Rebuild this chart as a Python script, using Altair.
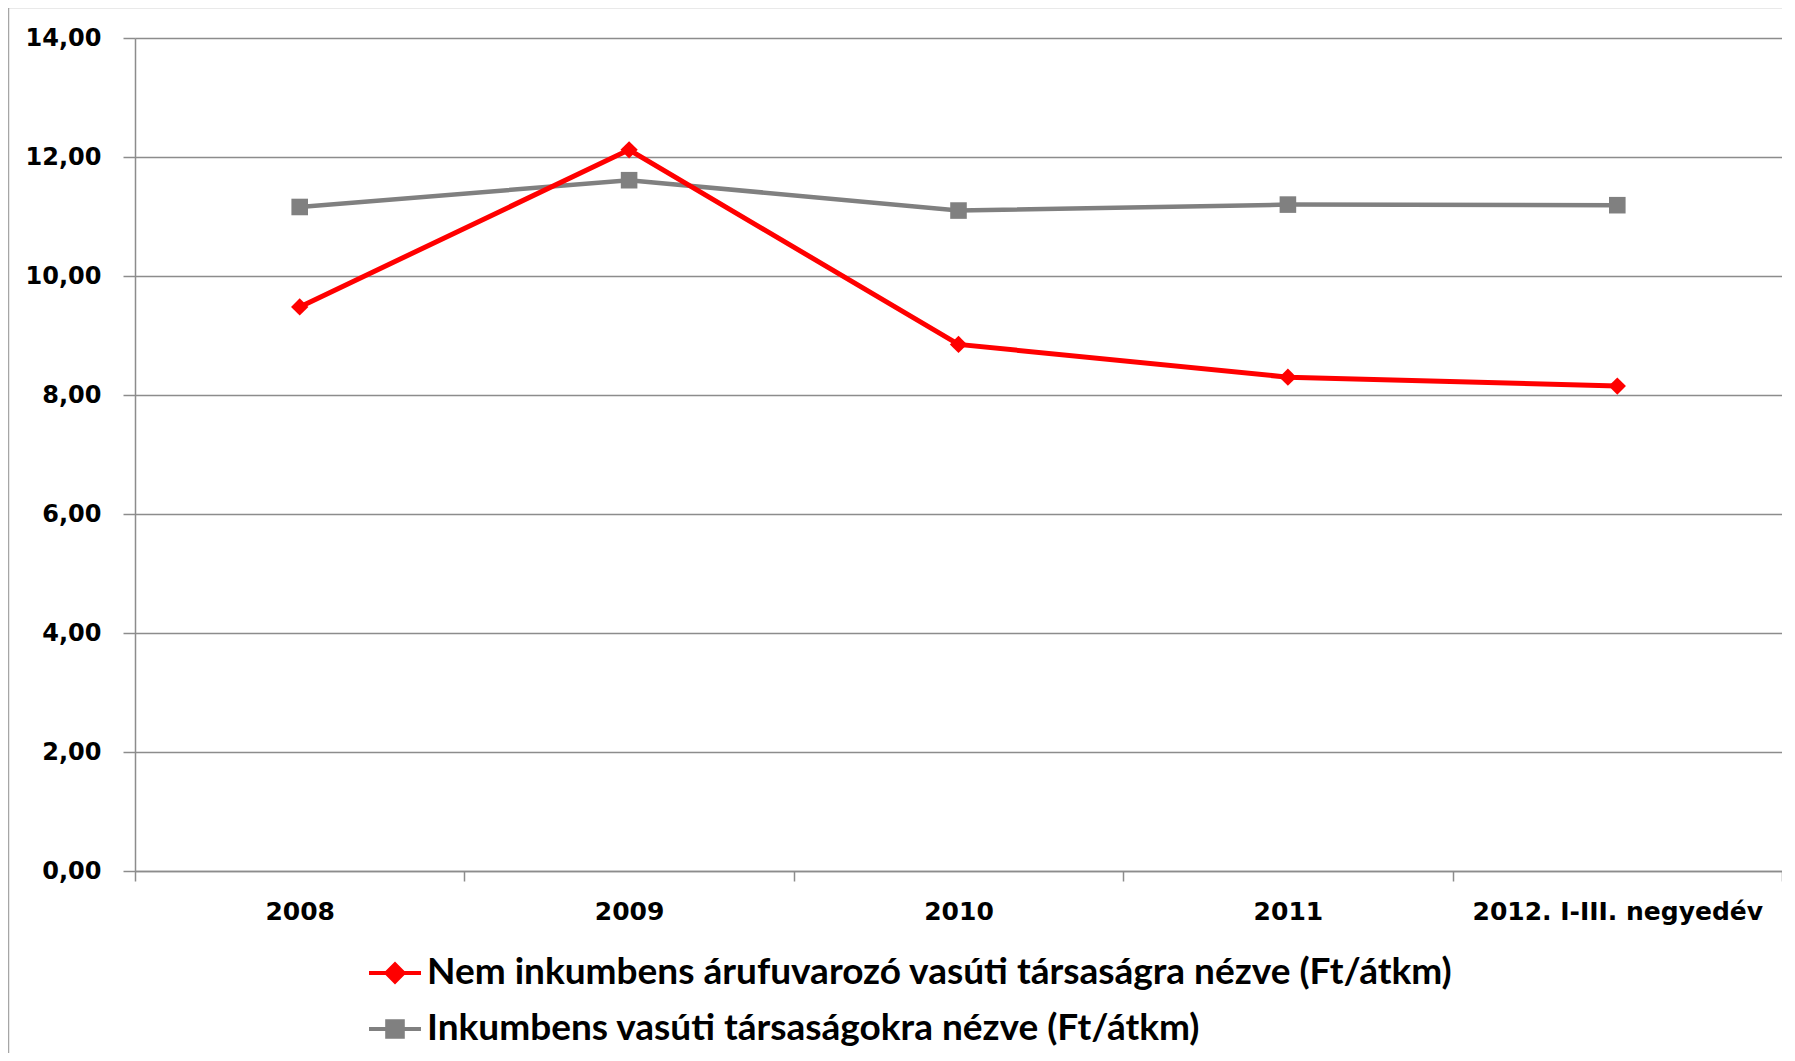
import altair as alt
import pandas as pd

# ---- data ----
categories = ["2008", "2009", "2010", "2011", "2012. I-III. negyedév"]
series_names = [
    "Nem inkumbens árufuvarozó vasúti társaságra nézve (Ft/átkm)",
    "Inkumbens vasúti társaságokra nézve (Ft/átkm)",
]
nem_inkumbens = [9.48, 12.12, 8.85, 8.30, 8.15]
inkumbens = [11.16, 11.61, 11.10, 11.20, 11.19]
y_ticks = [0, 2, 4, 6, 8, 10, 12, 14]

# ---- styles ----
series_colors = ["#ff0000", "#808080"]
legend_paths = [
    "M-1,0L1,0M-0.33,0L0,-0.33L0.33,0L0,0.33Z",
    "M-1,0L1,0M-0.3,-0.3L0.3,-0.3L0.3,0.3L-0.3,0.3Z",
]
TICK_FONT = "DejaVu Sans"
LEGEND_FONT = "Lato"
GRID = "#8c8c8c"
W, H = 1647, 833

rows = []
for name, vals in zip(series_names, [nem_inkumbens, inkumbens]):
    for cat, v in zip(categories, vals):
        rows.append({"kategoria": cat, "sorozat": name, "ertek": v})
df = pd.DataFrame(rows)

x_enc = alt.X(
    "kategoria:N",
    sort=categories,
    scale=alt.Scale(type="band", paddingInner=0, paddingOuter=0),
    axis=alt.Axis(
        title=None, labelAngle=0, tickBand="extent", tickSize=10, labelPadding=18,
        labelFont=TICK_FONT, labelFontSize=25, labelFontWeight="bold", labelColor="black",
        domainColor=GRID, domainWidth=1.5, tickColor=GRID, tickWidth=1.5, grid=False,
        labelLimit=0,
    ),
)
y_enc = alt.Y(
    "ertek:Q",
    scale=alt.Scale(domain=[0, 14], nice=False, zero=True),
    axis=alt.Axis(
        title=None, values=y_ticks,
        labelExpr="replace(format(datum.value, '.2f'), '.', ',')",
        tickSize=12, labelPadding=22,
        labelFont=TICK_FONT, labelFontSize=24, labelFontWeight="bold", labelColor="black",
        domainColor=GRID, domainWidth=1.5, tickColor=GRID, tickWidth=1.5,
        grid=True, gridColor=GRID, gridWidth=1.5,
    ),
)

color_scale = alt.Scale(domain=series_names, range=series_colors)
base = alt.Chart(df)
red_data = base.transform_filter(alt.datum.sorozat == series_names[0])
gray_data = base.transform_filter(alt.datum.sorozat == series_names[1])

line_red = red_data.mark_line(strokeWidth=5, color=series_colors[0]).encode(x=x_enc, y=y_enc)
line_gray = gray_data.mark_line(strokeWidth=4.5, color=series_colors[1]).encode(x=x_enc, y=y_enc)

pts_red = red_data.mark_point(
    shape="diamond", filled=True, size=300, opacity=1, color=series_colors[0]
).encode(x=x_enc, y=y_enc)
pts_gray = gray_data.mark_point(
    shape="square", filled=True, size=275, opacity=1, color=series_colors[1]
).encode(x=x_enc, y=y_enc)

legend_def = alt.Legend(
    title=None, orient="none", legendX=232, legendY=907, direction="vertical",
    symbolSize=2700, symbolStrokeWidth=4, padding=0,
    labelFont=LEGEND_FONT, labelFontSize=37, labelFontWeight="bold", labelColor="black",
    labelOffset=4, rowPadding=10, labelLimit=0,
)
legend_layer = base.transform_filter("false").mark_point(
    filled=True, opacity=1, strokeWidth=4
).encode(
    color=alt.Color("sorozat:N", scale=color_scale, legend=legend_def),
    stroke=alt.Stroke("sorozat:N", scale=color_scale, legend=legend_def),
    shape=alt.Shape("sorozat:N", scale=alt.Scale(domain=series_names, range=legend_paths), legend=legend_def),
)

frame_df = pd.DataFrame({"k": [0]})
frame_left = alt.Chart(frame_df).mark_rule(color="#a6a6a6", strokeWidth=1.5).encode(
    x=alt.value(-126.5), y=alt.value(-30.5), y2=alt.value(H + 200)
)
frame_top = alt.Chart(frame_df).mark_rule(color="#a6a6a6", strokeWidth=1.5).encode(
    x=alt.value(-126.5), x2=alt.value(W + 20), y=alt.value(-30.5)
)

chart = alt.layer(
    legend_layer, frame_left, frame_top, line_gray, line_red, pts_gray, pts_red
).properties(
    width=W, height=H,
    autosize=alt.AutoSizeParams(type="none"),
    padding={"left": 127, "top": 30, "right": 0, "bottom": 182},
    background="white",
).configure_view(stroke=None)

chart.save("out.html", embed_options={"renderer": "svg", "actions": False})
